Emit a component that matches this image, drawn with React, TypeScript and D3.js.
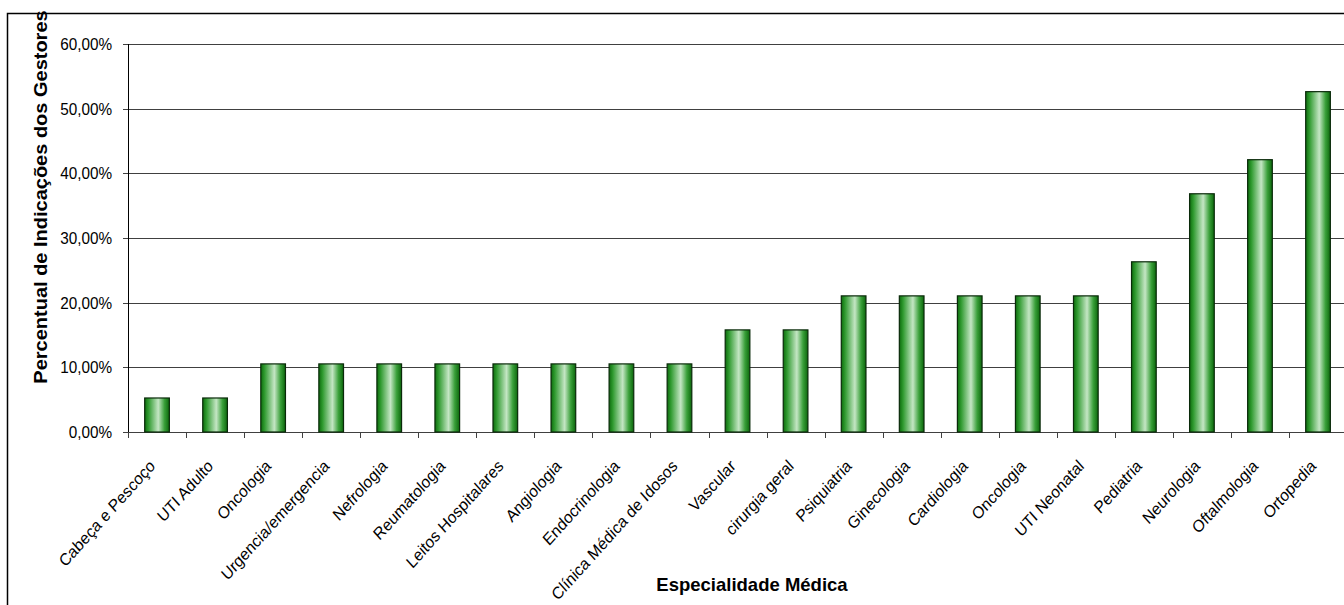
import React from "react";
import * as d3 from "d3";

// Especialidades médicas indicadas pelos gestores (ordem de exibição)
const especialidades: string[] = [
  "Cabeça e Pescoço",
  "UTI Adulto",
  "Oncologia",
  "Urgencia/emergencia",
  "Nefrologia",
  "Reumatologia",
  "Leitos Hospitalares",
  "Angiologia",
  "Endocrinologia",
  "Clínica Médica de Idosos",
  "Vascular",
  "cirurgia geral",
  "Psiquiatria",
  "Ginecologia",
  "Cardiologia",
  "Oncologia ",
  "UTI Neonatal",
  "Pediatria",
  "Neurologia",
  "Oftalmologia",
  "Ortopedia",
];

// Percentual de indicações (fração)
const percentuais: number[] = [
  0.0526, 0.0526, 0.1053, 0.1053, 0.1053, 0.1053, 0.1053, 0.1053, 0.1053, 0.1053,
  0.1579, 0.1579, 0.2105, 0.2105, 0.2105, 0.2105, 0.2105, 0.2632, 0.3684, 0.4211,
  0.5263,
];

const yTicks: number[] = [0, 0.1, 0.2, 0.3, 0.4, 0.5, 0.6];

const ptBR = d3.formatLocale({
  decimal: ",",
  thousands: ".",
  grouping: [3],
  currency: ["R$", ""],
});
const fmtPct = ptBR.format(".2%");

const W = 1344;
const H = 605;
const plotLeft = 128;
const plotTop = 44;
const plotBottom = 432;
const slot = 58.05;
const plotRight = plotLeft + slot * especialidades.length;
// compressão horizontal dos textos
const SX = 0.9;

const FONT = "Arial, 'Liberation Sans', sans-serif";

export default function App() {
  const x = d3
    .scaleBand<string>()
    .domain(especialidades)
    .range([plotLeft, plotRight])
    .paddingInner(0.575)
    .paddingOuter(0.2875);

  const y = d3.scaleLinear().domain([0, 0.6]).range([plotBottom, plotTop]);

  const step = x.step();
  const boundaries = d3.range(especialidades.length + 1).map((i) => plotLeft + i * step);

  return (
    <svg
      width={W}
      height={H}
      style={{ position: "absolute", left: 0, top: 0, display: "block", background: "#fff" }}
      fontFamily={FONT}
    >
      <defs>
        <linearGradient id="barGrad" x1="0" x2="1" y1="0" y2="0">
          <stop offset="0%" stopColor="#0d6b0d" />
          <stop offset="15%" stopColor="#2f9a2f" />
          <stop offset="55%" stopColor="#c4e6c4" />
          <stop offset="80%" stopColor="#3aa03a" />
          <stop offset="100%" stopColor="#0b660b" />
        </linearGradient>
      </defs>

      {/* moldura externa */}
      <rect x={7.5} y={13.5} width={1400} height={700} fill="none" stroke="#000" strokeWidth={1.5} />

      {/* linhas de grade */}
      {yTicks.map((t) => (
        <line
          key={"g" + t}
          x1={plotLeft - 5}
          x2={plotRight}
          y1={Math.round(y(t)) + 0.5}
          y2={Math.round(y(t)) + 0.5}
          stroke="#404040"
          strokeWidth={1}
        />
      ))}

      {/* rótulos do eixo Y */}
      {yTicks.map((t) => (
        <text
          key={"t" + t}
          transform={`translate(${plotLeft - 16},${y(t)}) scale(${SX},1)`}
          dy="0.36em"
          textAnchor="end"
          fontSize={17}
          fill="#000"
        >
          {fmtPct(t)}
        </text>
      ))}

      {/* eixo Y */}
      <line x1={plotLeft + 0.5} x2={plotLeft + 0.5} y1={plotTop} y2={plotBottom + 0.5} stroke="#000" />

      {/* marcas do eixo X */}
      {boundaries.map((bx, i) => (
        <line
          key={"xt" + i}
          x1={Math.round(bx) + 0.5}
          x2={Math.round(bx) + 0.5}
          y1={plotBottom}
          y2={plotBottom + 6}
          stroke="#404040"
        />
      ))}

      {/* barras */}
      {especialidades.map((e, i) => (
        <rect
          key={"b" + i}
          x={x(e)!}
          y={y(percentuais[i])}
          width={x.bandwidth()}
          height={plotBottom - y(percentuais[i])}
          fill="url(#barGrad)"
          stroke="#0a2a0a"
          strokeWidth={1.2}
        />
      ))}

      {/* rótulos das categorias */}
      {especialidades.map((e, i) => {
        const cx = x(e)! + x.bandwidth() / 2;
        return (
          <text
            key={"c" + i}
            transform={`translate(${cx - 1},467) scale(${SX},1) rotate(-45)`}
            textAnchor="end"
            fontSize={17}
            fill="#000"
          >
            {e.trim()}
          </text>
        );
      })}

      {/* títulos dos eixos */}
      <text
        transform={`translate(46.5,197) scale(${SX},1) rotate(-90)`}
        textAnchor="middle"
        fontSize={20}
        fontWeight="bold"
        fill="#000"
      >
        Percentual de Indicações dos Gestores
      </text>
      <text x={752} y={591} textAnchor="middle" fontSize={18.5} fontWeight="bold" fill="#000">
        Especialidade Médica
      </text>
    </svg>
  );
}
